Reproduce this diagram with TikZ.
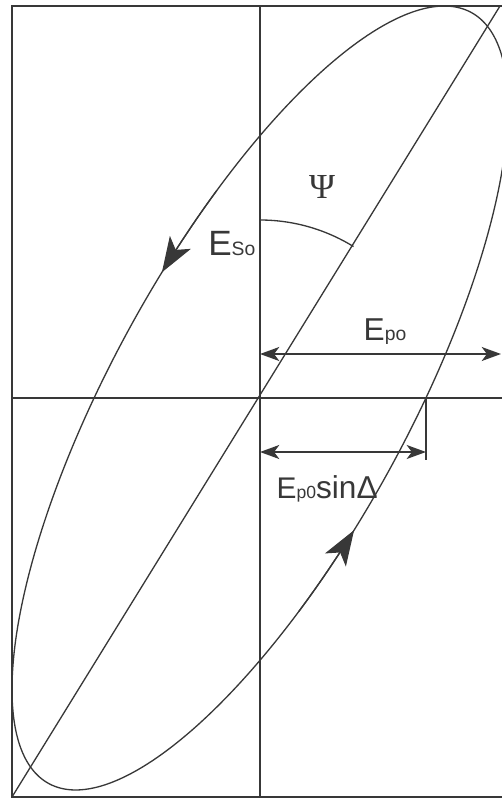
\documentclass[tikz,border=0pt]{standalone}
\usepackage{fontspec}
\setmainfont{Liberation Sans}
\newfontfamily\greekserif{Liberation Serif}
\usetikzlibrary{arrows.meta}
\definecolor{linecolor}{HTML}{383838}

\begin{document}
\begin{tikzpicture}[
    line width=0.75pt,
    color=linecolor,
    measure/.style={{Stealth[length=11pt,width=8pt,inset=3pt]}-{Stealth[length=11pt,width=8pt,inset=3pt]}},
    sense/.style={-{Stealth[length=20pt,width=14pt,inset=5pt]}},
    every node/.style={inner sep=0pt, text=linecolor}
]
\clip (-5.20,-8.02) rectangle (4.84,7.96);
% frame and axes
\coordinate (O) at (0,0);
\coordinate (bl) at (-4.96,-7.98);
\coordinate (fr) at (5.00,7.84);
\coordinate (diagtop) at (4.80,7.84);
\draw (bl) rectangle (fr);
\draw (bl |- O) -- (fr |- O);
\draw (O |- bl) -- (O |- fr);
\draw (bl) -- (diagtop);
% polarisation ellipse
\draw plot[domain=0:360, samples=180, smooth] ({4.96*cos(\x)},{7.84*cos(\x+42)});
\draw[sense] plot[domain=-100:-113.3, samples=10, smooth] ({4.96*cos(\x)},{7.84*cos(\x+42)});
\draw[sense] plot[domain=81:67.7, samples=10, smooth] ({4.96*cos(\x)},{7.84*cos(\x+42)});
% angle
\draw (0,3.56) arc[start angle=90, end angle=58.3, radius=3.56];
\node (psi) at (1.24,4.22) {\greekserif\fontsize{20}{20}\selectfont Ψ};
% amplitudes
\coordinate (cross) at ({4.96*sin(42)},0);
\coordinate (poL) at (0,0.88);
\coordinate (poR) at (4.82,0.88);
\coordinate (sdL) at (0,-1.08);
\draw (cross) -- ++(0,-1.24);
\draw[measure] (poL) -- (poR);
\draw[measure] (sdL) -- (sdL -| cross);
\node[anchor=base east] (Eso) at (-0.08,2.86) {\fontsize{20}{20}\selectfont E\fontsize{11}{11}\selectfont So};
\node[anchor=base west] (Epo) at (2.06,1.16) {\fontsize{18}{18}\selectfont E\fontsize{11}{11}\selectfont po};
\node[anchor=base west] (Epsin) at (0.32,-2.0) {\fontsize{17}{17}\selectfont E\fontsize{10}{10}\selectfont p0\fontsize{18}{18}\selectfont sinΔ};
\end{tikzpicture}
\end{document}
